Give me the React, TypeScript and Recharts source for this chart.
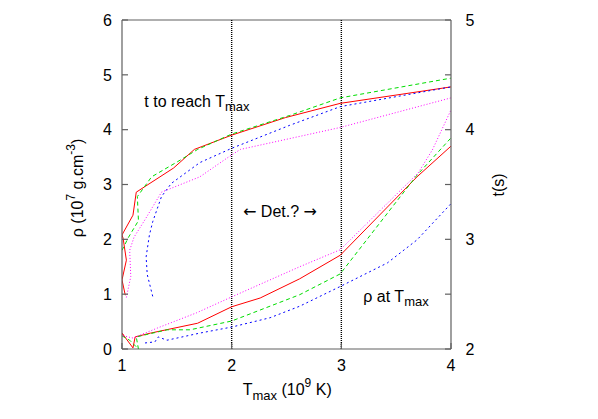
import React from 'react';
import { LineChart, Line, XAxis, YAxis, ReferenceLine } from 'recharts';

const FONT = '"Liberation Sans", Arial, Helvetica, sans-serif';
const ARROW_FONT = '"DejaVu Sans", sans-serif';
const BORDER = '#606060';

const xTicks = [1, 2, 3, 4];
const rhoTicks = [0, 1, 2, 3, 4, 5, 6];
const tTicks = [2, 2.5, 3, 3.5, 4, 4.5, 5];
const detLines = [2, 3];

// time to reach Tmax (right axis, s)
const tRedX = [1.03, 1.0, 1.04, 1.01, 1.0, 1.1, 1.13, 1.47, 1.66, 2.0, 2.49, 2.99, 4.0];
const tRedY = [2.49, 2.63, 2.81, 3.01, 3.04, 3.22, 3.43, 3.65, 3.82, 3.95, 4.11, 4.24, 4.39];
const tGreenX = [1.0, 1.06, 1.15, 1.14, 1.27, 1.51, 1.69, 2.0, 2.53, 2.99, 4.0];
const tGreenY = [2.9, 3.02, 3.17, 3.39, 3.57, 3.71, 3.82, 3.96, 4.13, 4.29, 4.47];
const tBlueX = [1.28, 1.23, 1.22, 1.25, 1.28, 1.36, 1.45, 1.71, 2.0, 2.53, 2.99, 4.0];
const tBlueY = [2.48, 2.68, 2.84, 3.04, 3.16, 3.39, 3.51, 3.7, 3.83, 4.04, 4.21, 4.39];
const tMagX = [1.04, 1.08, 1.07, 1.11, 1.21, 1.36, 1.71, 2.0, 2.08, 2.99, 4.0];
const tMagY = [2.47, 2.66, 2.9, 3.02, 3.18, 3.43, 3.57, 3.77, 3.82, 4.02, 4.29];

// density at Tmax (left axis, 1e7 g/cm3)
const rRedX = [1.02, 1.0, 1.1, 1.12, 1.26, 1.69, 2.0, 2.26, 2.62, 2.99, 3.69, 4.0];
const rRedY = [0.22, 0.29, 0.02, 0.22, 0.29, 0.47, 0.77, 0.93, 1.28, 1.71, 3.14, 3.7];
const rGreenX = [1.0, 1.07, 1.15, 1.13, 1.41, 1.62, 2.0, 2.62, 2.99, 3.69, 4.0];
const rGreenY = [0.24, 0.16, 0.0, 0.22, 0.35, 0.35, 0.51, 0.99, 1.37, 3.17, 3.85];
const rBlueX = [1.21, 1.3, 1.33, 1.41, 1.71, 2.0, 2.35, 2.62, 3.0, 3.42, 3.69, 4.0];
const rBlueY = [0.11, 0.13, 0.22, 0.16, 0.29, 0.4, 0.57, 0.78, 1.15, 1.57, 1.99, 2.65];
const rMagX = [1.01, 1.1, 1.32, 1.68, 2.0, 2.62, 2.99, 3.7, 3.83, 4.0];
const rMagY = [0.24, 0.2, 0.38, 0.66, 0.95, 1.5, 1.81, 3.21, 3.63, 4.36];

const mk = (xs: number[], ys: number[]) => xs.map((x, i) => ({ x, y: ys[i] }));

const BottomTick = (props: any) => {
  const { x, y, payload } = props;
  return (
    <g>
      <line x1={x} y1={y} x2={x} y2={y - 6} stroke={BORDER} strokeWidth={1.2} />
      <text x={x} y={y + 21.5} textAnchor="middle" fontSize={16} fontFamily={FONT} fill="#000">
        {payload.value}
      </text>
    </g>
  );
};

const LeftTick = (props: any) => {
  const { x, y, payload } = props;
  return (
    <g>
      <line x1={x} y1={y} x2={x + 6} y2={y} stroke={BORDER} strokeWidth={1.2} />
      <text x={x - 10} y={y + 5.7} textAnchor="end" fontSize={16} fontFamily={FONT} fill="#000">
        {payload.value}
      </text>
    </g>
  );
};

const RightTick = (props: any) => {
  const { x, y, payload } = props;
  const isInt = Number.isInteger(payload.value);
  return (
    <g>
      <line x1={x} y1={y} x2={x - 6} y2={y} stroke={BORDER} strokeWidth={1.2} />
      {isInt && (
        <text x={x + 14.5} y={y + 5.7} textAnchor="start" fontSize={16} fontFamily={FONT} fill="#000">
          {payload.value}
        </text>
      )}
    </g>
  );
};

export default function App() {
  const lineCommon = { dataKey: 'y', dot: false, isAnimationActive: false, type: 'linear' as const, strokeWidth: 1 };
  return (
    <div style={{ position: 'absolute', left: 0, top: 0, width: 598, height: 419, background: '#fff' }}>
      <LineChart width={598} height={419} margin={{ top: 20, right: 87, bottom: 30, left: 62 }}>
        <XAxis
          dataKey="x"
          type="number"
          domain={[1, 4]}
          ticks={xTicks}
          interval={0}
          height={40}
          tickSize={0}
          tickMargin={0}
          axisLine={{ stroke: BORDER, strokeWidth: 1.2 }}
          tickLine={false}
          tick={<BottomTick />}
          allowDataOverflow
        />
        <YAxis
          yAxisId="rho"
          type="number"
          domain={[0, 6]}
          ticks={rhoTicks}
          interval={0}
          width={60}
          tickSize={0}
          tickMargin={0}
          axisLine={{ stroke: BORDER, strokeWidth: 1.2 }}
          tickLine={false}
          tick={<LeftTick />}
          allowDataOverflow
        />
        <YAxis
          yAxisId="t"
          orientation="right"
          type="number"
          domain={[2, 5]}
          ticks={tTicks}
          interval={0}
          width={60}
          tickSize={0}
          tickMargin={0}
          axisLine={{ stroke: BORDER, strokeWidth: 1.2 }}
          tickLine={false}
          tick={<RightTick />}
          allowDataOverflow
        />
        <ReferenceLine yAxisId="rho" y={6} stroke={BORDER} strokeWidth={1.2} />
        {detLines.map((v) => (
          <ReferenceLine key={v} yAxisId="rho" x={v} stroke="#000" strokeWidth={1.4} strokeDasharray="1 1" />
        ))}
        <Line {...lineCommon} yAxisId="t" data={mk(tRedX, tRedY)} stroke="#ff0000" />
        <Line {...lineCommon} yAxisId="t" data={mk(tGreenX, tGreenY)} stroke="#00dd00" strokeDasharray="4 3" />
        <Line {...lineCommon} yAxisId="t" data={mk(tBlueX, tBlueY)} stroke="#0000ff" strokeDasharray="2 3" />
        <Line {...lineCommon} yAxisId="t" data={mk(tMagX, tMagY)} stroke="#ff00ff" strokeDasharray="1 2" />
        <Line {...lineCommon} yAxisId="rho" data={mk(rRedX, rRedY)} stroke="#ff0000" />
        <Line {...lineCommon} yAxisId="rho" data={mk(rGreenX, rGreenY)} stroke="#00dd00" strokeDasharray="4 3" />
        <Line {...lineCommon} yAxisId="rho" data={mk(rBlueX, rBlueY)} stroke="#0000ff" strokeDasharray="2 3" />
        <Line {...lineCommon} yAxisId="rho" data={mk(rMagX, rMagY)} stroke="#ff00ff" strokeDasharray="1 2" />
      </LineChart>
      <svg
        width={598}
        height={419}
        style={{ position: 'absolute', left: 0, top: 0, pointerEvents: 'none' }}
        fontFamily={FONT}
      >
        <text x={144.3} y={106.5} fontSize={16} fill="#000">
          t to reach T<tspan dy={4} fontSize={13}>max</tspan>
        </text>
        <text x={243} y={216.7} fontSize={16} fill="#000">
          <tspan fontFamily={ARROW_FONT}>←</tspan> Det.? <tspan fontFamily={ARROW_FONT}>→</tspan>
        </text>
        <text x={363.3} y={302.3} fontSize={16} fill="#000">
          ρ at T<tspan dy={3.5} fontSize={13}>max</tspan>
        </text>
        <text x={242.7} y={395} fontSize={16} fill="#000">
          T<tspan dy={5} fontSize={13}>max</tspan>
          <tspan dy={-5}> (10</tspan>
          <tspan dy={-8} fontSize={12}>9</tspan>
          <tspan dy={8}> K)</tspan>
        </text>
        <text transform="translate(83,188) rotate(-90)" textAnchor="middle" fontSize={16} fill="#000">
          ρ (10<tspan dy={-8} fontSize={12}>7</tspan>
          <tspan dy={8}> g.cm</tspan>
          <tspan dy={-8} fontSize={12}>-3</tspan>
          <tspan dy={8}>)</tspan>
        </text>
        <text transform="translate(503.5,185) rotate(-90)" textAnchor="middle" fontSize={16} fill="#000">
          t(s)
        </text>
      </svg>
    </div>
  );
}
